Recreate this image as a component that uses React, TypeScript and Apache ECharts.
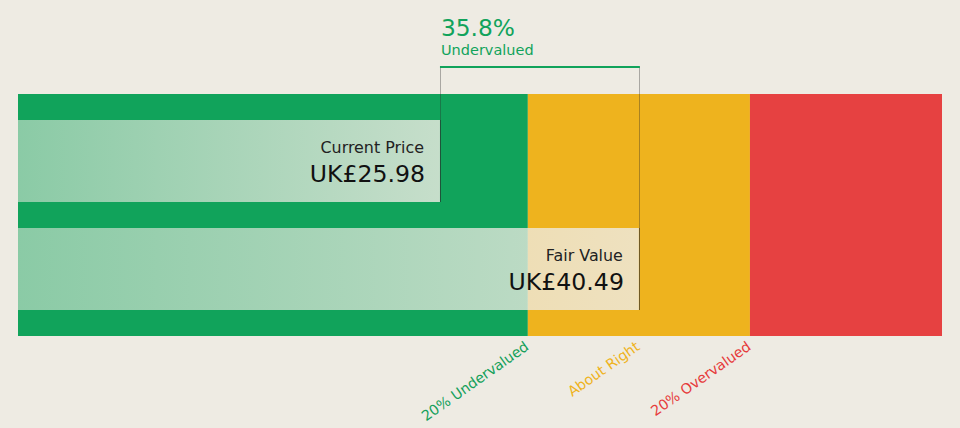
import React, { useEffect, useRef } from 'react';
import * as echarts from 'echarts';

const categories = ['Current Price', 'Fair Value'];
const prices = [25.98, 40.49];
const priceLabels = ['UK£25.98', 'UK£40.49'];
const zoneStarts = [-4.8, 32.39, 48.59];
const zoneEnds = [32.39, 48.59, 62.6];
const zoneColors = ['#11A35B', '#EEB31E', '#E64141'];
const zoneLabelNames = ['20% Undervalued', 'About Right', '20% Overvalued'];
const zoneLabelValues = [32.39, 40.49, 48.59];
const zoneLabelColors = ['#14A05A', '#EEB31E', '#E63C3C'];
const axisRange = [-4.8, 62.6];
const diffPercent = '35.8%';
const diffLabel = 'Undervalued';

const BG = '#EEEBE3';
const FONT = 'DejaVu Sans';

export default function App() {
  const ref = useRef<HTMLDivElement>(null);
  useEffect(() => {
    if (!ref.current) return;
    const chart = echarts.init(ref.current, undefined, { renderer: 'svg' });

    const zoneSeries = {
      type: 'custom',
      xAxisIndex: 0,
      yAxisIndex: 0,
      data: zoneStarts.map((s, i) => [s, zoneEnds[i], 0, i]),
      renderItem: (params: any, api: any) => {
        const i = api.value(3);
        const p0 = api.coord([api.value(0), 0]);
        const p1 = api.coord([api.value(1), 0]);
        const h = api.size([0, 1])[1];
        const lp = api.coord([zoneLabelValues[i], 0]);
        return {
          type: 'group',
          children: [
            {
              type: 'rect',
              shape: { x: p0[0], y: p0[1] - h / 2, width: p1[0] - p0[0], height: h },
              style: { fill: zoneColors[i] },
            },
            {
              type: 'text',
              x: lp[0] - 5,
              y: p0[1] + h / 2 + 3,
              rotation: (35 * Math.PI) / 180,
              style: {
                text: zoneLabelNames[i],
                fill: zoneLabelColors[i],
                font: `14.2px "${FONT}"`,
                align: 'right',
                verticalAlign: 'top',
              },
            },
          ],
        };
      },
    };

    const barSeries = {
      type: 'custom',
      xAxisIndex: 1,
      yAxisIndex: 1,
      data: prices.map((p, i) => [axisRange[0], p, i]),
      renderItem: (params: any, api: any) => {
        const ci = api.value(2);
        const p0 = api.coord([api.value(0), ci]);
        const p1 = api.coord([api.value(1), ci]);
        const band = api.size([0, 1])[1];
        const bh = (band * 82) / 108;
        const top = p0[1] - bh / 2;
        const firstBandTop = api.coord([0, 0])[1] - band / 2;
        const bracketY = firstBandTop - 40;
        const xr = Math.round(p1[0]) + 0.5;
        return {
          type: 'group',
          children: [
            {
              type: 'rect',
              shape: { x: p0[0], y: top, width: p1[0] - p0[0], height: bh },
              style: {
                fill: new echarts.graphic.LinearGradient(0, 0, 1, 0, [
                  { offset: 0, color: 'rgba(238,235,227,0.55)' },
                  { offset: 1, color: 'rgba(238,235,227,0.82)' },
                ]),
              },
            },
            {
              type: 'line',
              shape: { x1: xr, y1: bracketY, x2: xr, y2: top + bh },
              style: { stroke: 'rgba(40,40,40,0.35)', lineWidth: 1 },
            },
            {
              type: 'line',
              shape: { x1: xr, y1: top, x2: xr, y2: top + bh },
              style: { stroke: 'rgba(40,40,40,0.45)', lineWidth: 1 },
            },
            {
              type: 'text',
              x: p1[0] - 16,
              y: top + 27,
              style: {
                text: categories[ci],
                fill: '#222222',
                font: `15.9px "${FONT}"`,
                align: 'right',
                verticalAlign: 'middle',
              },
            },
            {
              type: 'text',
              x: p1[0] - 15,
              y: top + 54,
              style: {
                text: priceLabels[ci],
                fill: '#111111',
                font: `23.6px "${FONT}"`,
                align: 'right',
                verticalAlign: 'middle',
              },
            },
          ],
        };
      },
    };

    const bracketSeries = {
      type: 'custom',
      xAxisIndex: 1,
      yAxisIndex: 1,
      data: [[prices[0], prices[1]]],
      renderItem: (params: any, api: any) => {
        const a = api.coord([api.value(0), 0]);
        const b = api.coord([api.value(1), 0]);
        const band = api.size([0, 1])[1];
        const firstBandTop = a[1] - band / 2;
        const y = firstBandTop - 40;
        return {
          type: 'group',
          children: [
            {
              type: 'line',
              shape: { x1: a[0], y1: y, x2: b[0] + 1, y2: y },
              style: { stroke: '#11A35B', lineWidth: 2 },
            },
            {
              type: 'text',
              x: a[0] + 1,
              y: y - 40,
              style: {
                text: diffPercent,
                fill: '#11A35B',
                font: `23.3px "${FONT}"`,
                align: 'left',
                verticalAlign: 'middle',
              },
            },
            {
              type: 'text',
              x: a[0] + 1,
              y: y - 17,
              style: {
                text: diffLabel,
                fill: '#11A35B',
                font: `14.5px "${FONT}"`,
                align: 'left',
                verticalAlign: 'middle',
              },
            },
          ],
        };
      },
    };

    chart.setOption({
      animation: false,
      backgroundColor: BG,
      grid: [
        { left: 18, right: 18, top: 94, bottom: 92 },
        { left: 18, right: 18, top: 107, bottom: 105 },
      ],
      xAxis: [
        { type: 'value', gridIndex: 0, min: axisRange[0], max: axisRange[1], show: false },
        { type: 'value', gridIndex: 1, min: axisRange[0], max: axisRange[1], show: false },
      ],
      yAxis: [
        { type: 'category', gridIndex: 0, data: ['zones'], show: false },
        { type: 'category', gridIndex: 1, data: categories, inverse: true, show: false },
      ],
      series: [zoneSeries, barSeries, bracketSeries],
    });
    return () => chart.dispose();
  }, []);
  return (
    <div
      ref={ref}
      style={{ position: 'fixed', left: 0, top: 0, width: 960, height: 428 }}
    />
  );
}
